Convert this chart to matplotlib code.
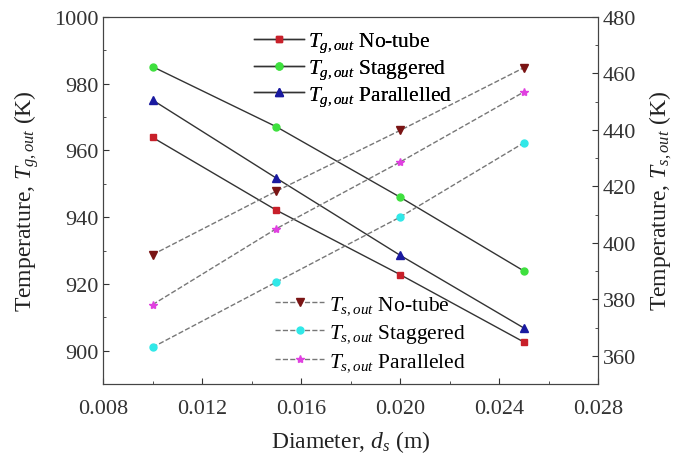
import matplotlib
matplotlib.use("Agg")
import matplotlib.pyplot as plt
from matplotlib.ticker import MultipleLocator, FormatStrFormatter

plt.rcParams['font.family'] = 'serif'
plt.rcParams['font.serif'] = ['Liberation Serif', 'DejaVu Serif']
plt.rcParams['mathtext.fontset'] = 'custom'
plt.rcParams['mathtext.rm'] = 'Liberation Serif'
plt.rcParams['mathtext.it'] = 'Liberation Serif:italic'
plt.rcParams['mathtext.bf'] = 'Liberation Serif:bold'

diameter = [0.010, 0.015, 0.020, 0.025]
tg_notube = [963.9, 942.1, 922.8, 902.6]
tg_staggered = [985.1, 967.1, 946.0, 923.9]
tg_parallelled = [975.1, 951.7, 928.6, 906.8]
ts_notube = [395.8, 418.3, 439.8, 462.0]
ts_staggered = [363.0, 386.1, 409.1, 435.4]
ts_paralleled = [378.1, 405.0, 428.6, 453.4]

fig = plt.figure(figsize=(6.78, 4.6), dpi=100)
ax = fig.add_axes([0.152, 0.163, 0.730, 0.798])
ax2 = ax.twinx()

l1, = ax.plot(diameter, tg_notube, '-', color='#333333', lw=1, marker='s', ms=4.5,
              mfc='#c8202a', mec='#c8202a', label=r'$T_{g,out}$ No-tube')
l2, = ax.plot(diameter, tg_staggered, '-', color='#333333', lw=1, marker='o', ms=5,
              mfc='#3ee03e', mec='#3ee03e', label=r'$T_{g,out}$ Staggered')
l3, = ax.plot(diameter, tg_parallelled, '-', color='#333333', lw=1, marker='^', ms=6,
              mfc='#1a1aa0', mec='#1a1aa0', label=r'$T_{g,out}$ Parallelled')

m1, = ax2.plot(diameter, ts_notube, '--', color='#777777', lw=1, marker='v', ms=5.5,
               mfc='#7a1414', mec='#7a1414', label=r'$T_{s,out}$ No-tube')
m2, = ax2.plot(diameter, ts_staggered, '--', color='#777777', lw=1, marker='o', ms=5,
               mfc='#30e8e8', mec='#30e8e8', label=r'$T_{s,out}$ Staggered')
m3, = ax2.plot(diameter, ts_paralleled, '--', color='#777777', lw=1, marker='*', ms=6,
               mfc='#e040e0', mec='#e040e0', label=r'$T_{s,out}$ Paralleled')

ax.set_xlim(0.008, 0.028)
ax.set_ylim(890, 1000)
ax2.set_ylim(350, 480)
ax.xaxis.set_major_locator(MultipleLocator(0.004))
ax.xaxis.set_minor_locator(MultipleLocator(0.002))
ax.yaxis.set_major_locator(MultipleLocator(20))
ax.yaxis.set_minor_locator(MultipleLocator(10))
ax2.yaxis.set_major_locator(MultipleLocator(20))
ax2.yaxis.set_minor_locator(MultipleLocator(10))
ax.xaxis.set_major_formatter(FormatStrFormatter('%.3f'))

for a in (ax, ax2):
    a.tick_params(which='both', direction='in', labelsize=16, colors='#333333')
    a.tick_params(which='major', length=4)
    a.tick_params(which='minor', length=2)
    for s in a.spines.values():
        s.set_color('#444444')
ax.tick_params(axis='x', pad=11)

ax.set_xlabel(r'Diameter, $d_s$ (m)', fontsize=17, color='#222222', labelpad=7)
ax.set_ylabel(r'Temperature, $T_{g,out}$ (K)', fontsize=17, color='#222222', labelpad=9)
ax2.set_ylabel(r'Temperature, $T_{s,out}$ (K)', fontsize=17, color='#222222', labelpad=8)

leg1 = ax.legend(handles=[l1, l2, l3], loc='upper left', bbox_to_anchor=(0.305, 0.962),
                 frameon=False, fontsize=15.5, handlelength=2.3, labelspacing=0.15,
                 handletextpad=0.2, borderpad=0, borderaxespad=0)
ax.add_artist(leg1)
ax2.legend(handles=[m1, m2, m3], loc='lower left', bbox_to_anchor=(0.347, 0.03),
           frameon=False, fontsize=15.5, handlelength=2.3, labelspacing=0.3,
           handletextpad=0.2, borderpad=0, borderaxespad=0)

fig.savefig('out.png', dpi=100)
